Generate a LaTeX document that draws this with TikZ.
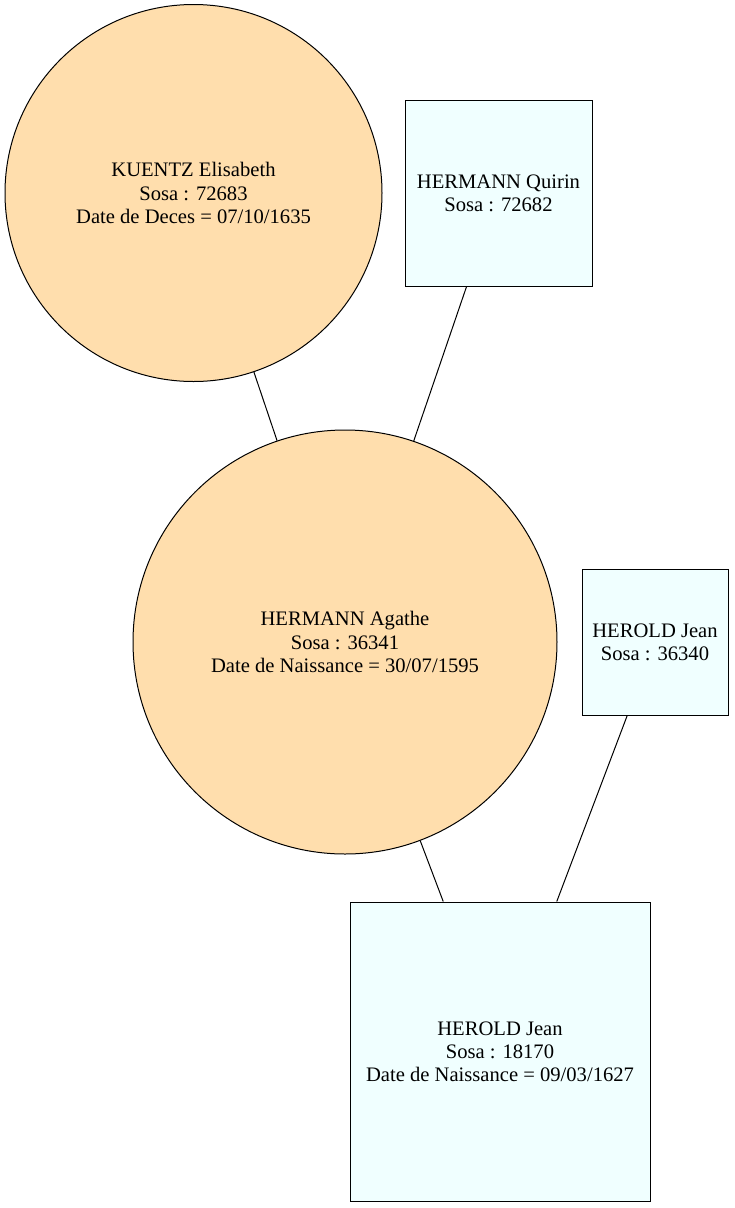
\documentclass[tikz,border=0pt]{standalone}
\usepackage{fontspec}
\setmainfont{Liberation Serif}
\definecolor{navajo}{HTML}{FFDEAD}
\definecolor{azurec}{HTML}{F0FFFF}
\begin{document}
\begin{tikzpicture}[x=1pt,y=-1pt,
  person/.style={draw=black,line width=1pt,align=center,inner sep=0pt,
    font=\fontsize{20.6}{23.2}\selectfont},
  fem/.style={person,circle,fill=navajo},
  masc/.style={person,rectangle,fill=azurec},
  link/.style={draw=black,line width=1pt}]
\useasboundingbox (0,0) rectangle (734,1208);
\node[fem,minimum size=377pt] (kuentz) at (193.5,193) {KUENTZ Elisabeth\\Sosa : 72683\\Date de Deces = 07/10/1635};
\node[masc,minimum width=187pt,minimum height=186pt] (quirin) at (498.5,193) {HERMANN Quirin\\Sosa : 72682};
\node[fem,minimum size=424pt] (agathe) at (345,642) {HERMANN Agathe\\Sosa : 36341\\Date de Naissance = 30/07/1595};
\node[masc,minimum width=146pt,minimum height=146pt] (jean2) at (655,642) {HEROLD Jean\\Sosa : 36340};
\node[masc,minimum width=300pt,minimum height=299pt] (jean1) at (500,1051.5) {HEROLD Jean\\Sosa : 18170\\Date de Naissance = 09/03/1627};
\draw[link] (kuentz) -- (agathe);
\draw[link] (quirin) -- (agathe);
\draw[link] (agathe) -- (jean1);
\draw[link] (jean2) -- (jean1);
\end{tikzpicture}
\end{document}
